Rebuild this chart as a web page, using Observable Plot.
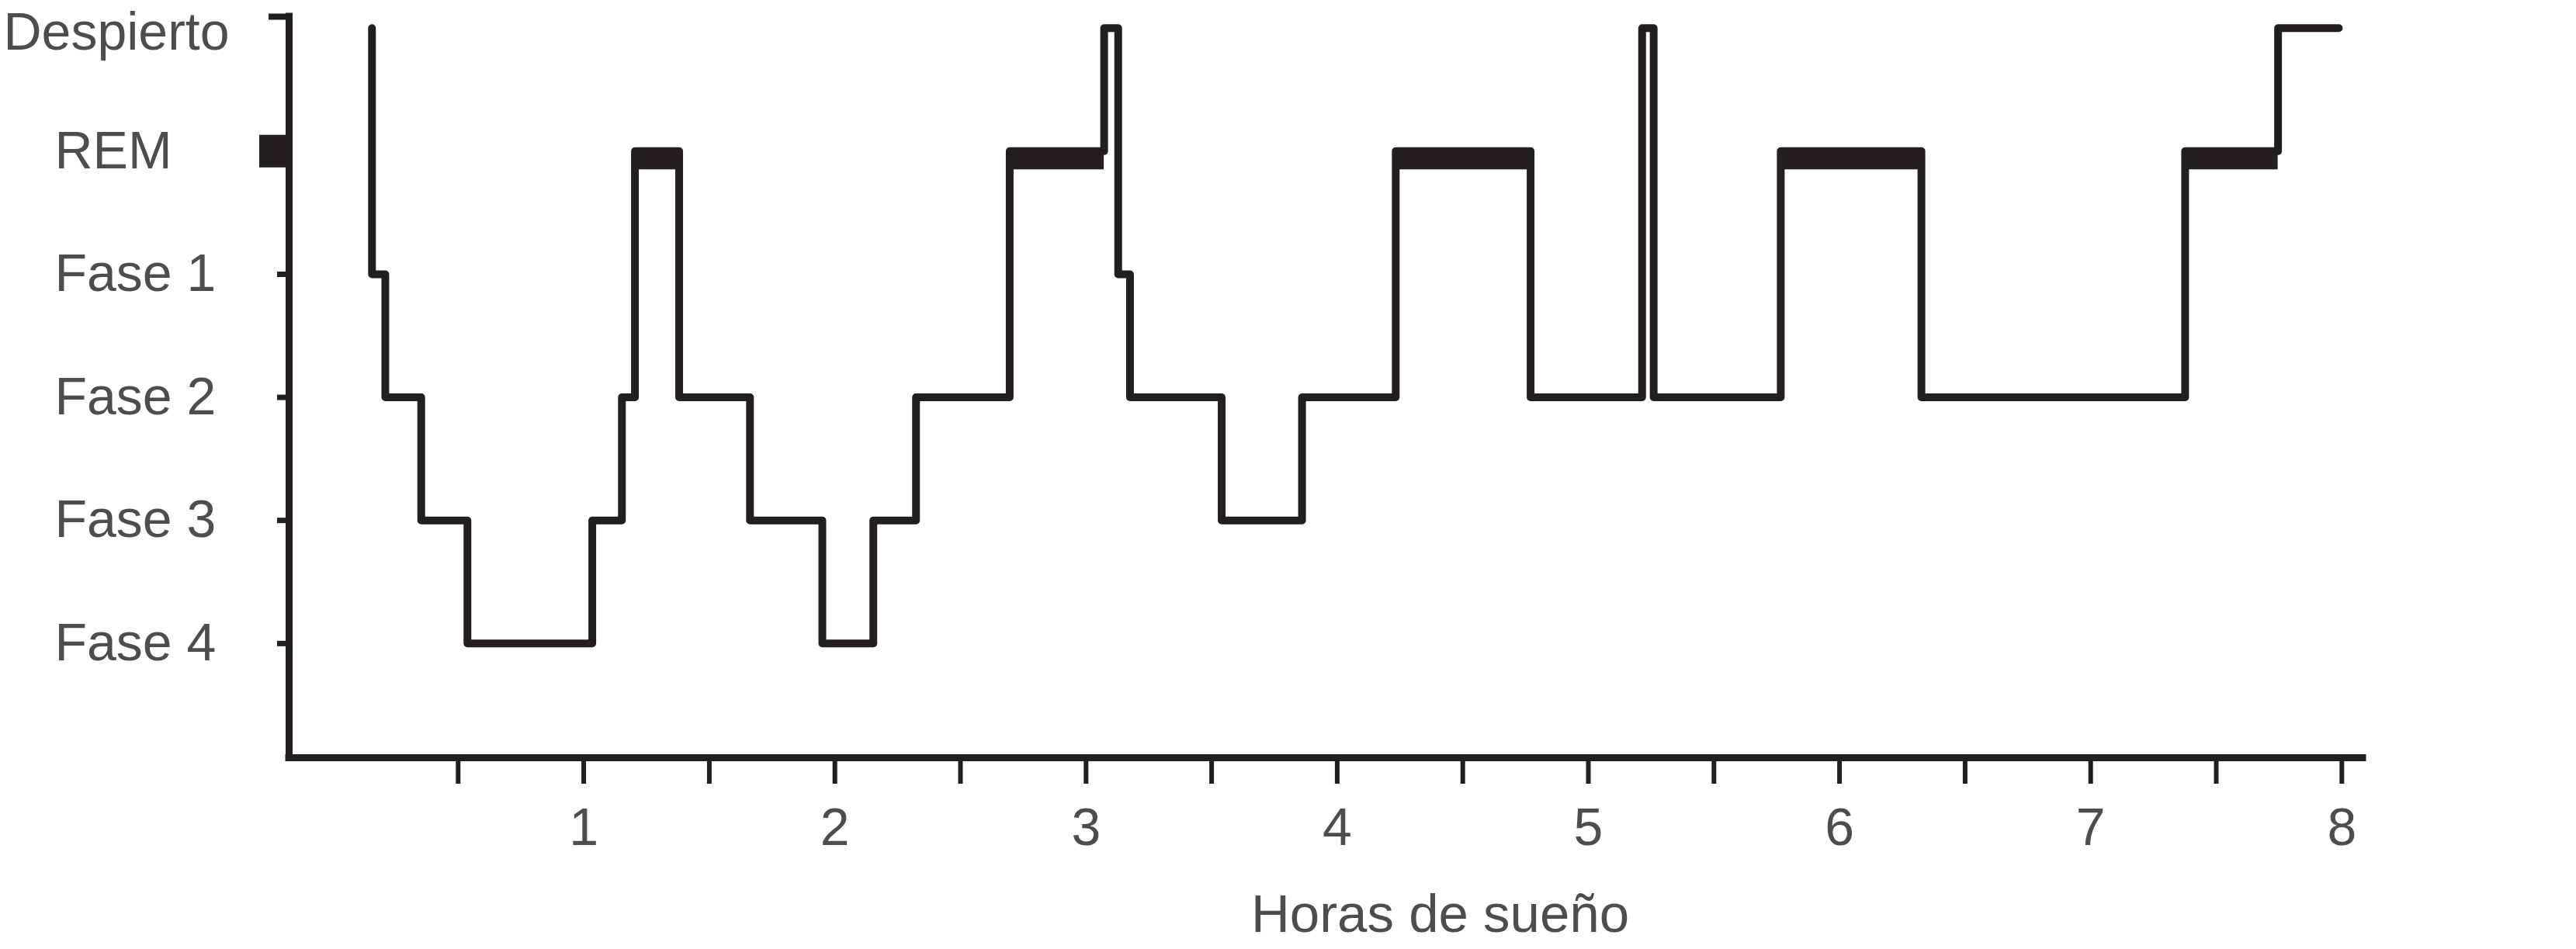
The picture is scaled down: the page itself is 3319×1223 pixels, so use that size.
<!DOCTYPE html>
<html>
<head>
<meta charset="utf-8">
<script src="https://cdn.jsdelivr.net/npm/d3@7"></script>
<script src="https://cdn.jsdelivr.net/npm/@observablehq/plot@0.6"></script>
<style>
  html, body { margin: 0; padding: 0; background: #ffffff; }
  #chart svg { display: block; }
</style>
</head>
<body>
<div id="chart"></div>
<script>
// Stage labels, indexed by stage code (0 = Fase 4 ... 5 = Despierto)
const stageLabels = ["Fase 4", "Fase 3", "Fase 2", "Fase 1", "REM", "Despierto"];
const sleepTicks = [0, 1, 2, 3];
const remCode = 4;
const awakeCode = 5;

// Hypnogram: time (hours) at which each stage begins
const hours = [0.157, 0.157, 0.21, 0.353, 0.537, 1.034, 1.152, 1.204, 1.38, 1.662,
               1.95, 2.153, 2.323, 2.696, 3.072, 3.128, 3.175, 3.54, 3.86, 4.233,
               4.77, 5.214, 5.26, 5.766, 6.326, 7.376, 7.746, 7.988];
const stages = [5, 3, 2, 1, 0, 1, 2, 4, 2, 1,
                0, 1, 2, 4, 5, 3, 2, 1, 2, 4,
                2, 5, 2, 4, 2, 4, 5, 5];

// Axis ticks
const xTicks = [0.5, 1, 1.5, 2, 2.5, 3, 3.5, 4, 4.5, 5, 5.5, 6, 6.5, 7, 7.5, 8];
const xTickLabels = [1, 2, 3, 4, 5, 6, 7, 8];
const xTitle = "Horas de sueño";

// Scale extents
const xDomain = [-0.173, 8.084];
const yDomain = [-0.928, 5.093];

const ink = "#231f20";
const textInk = "#4d4d4f";
const fs = 68;

const data = hours.map((t, i) => ({t, stage: stages[i]}));
const remSegments = [];
for (let i = 0; i < data.length - 1; i++) {
  if (data[i].stage === remCode) remSegments.push({x1: data[i].t, x2: data[i + 1].t, stage: remCode});
}

const chart = Plot.plot({
  width: 3319,
  height: 1223,
  marginLeft: 372,
  marginRight: 275,
  marginTop: 21,
  marginBottom: 247,
  style: {fontFamily: "'Liberation Sans', Arial, Helvetica, sans-serif", background: "#ffffff", color: textInk},
  x: {domain: xDomain, label: null},
  y: {domain: yDomain, label: null},
  marks: [
    // axis lines
    Plot.ruleX([xDomain[0]], {stroke: ink, strokeWidth: 9, strokeLinecap: "square"}),
    Plot.ruleY([yDomain[0]], {stroke: ink, strokeWidth: 9, strokeLinecap: "square"}),
    // y ticks
    Plot.axisY({ticks: sleepTicks, tickSize: 15, strokeWidth: 7, stroke: ink, tickFormat: () => "", label: null}),
    Plot.axisY({ticks: [remCode], tickSize: 38, strokeWidth: 42, stroke: ink, tickFormat: () => "", label: null}),
    Plot.axisY({ticks: [yDomain[1]], tickSize: 26, strokeWidth: 8, stroke: ink, tickFormat: () => "", label: null}),
    // y labels
    Plot.axisY({ticks: [0, 1, 2, 3, 4], tickSize: 0, tickPadding: 0, tickFormat: d => stageLabels[d],
                textAnchor: "start", dx: -302, fontSize: fs, fill: textInk, label: null}),
    Plot.axisY({ticks: [awakeCode], tickSize: 0, tickPadding: 0, tickFormat: d => stageLabels[d],
                textAnchor: "start", dx: -368, dy: 6, fontSize: fs, fill: textInk, label: null}),
    // x ticks and labels
    Plot.axisX({ticks: xTicks, tickSize: 34, strokeWidth: 6, stroke: ink, tickFormat: () => "", label: null}),
    Plot.axisX({ticks: xTickLabels, tickSize: 0, tickPadding: 64, fontSize: fs, fill: textInk, label: null}),
    Plot.text([xTitle], {frameAnchor: "bottom", dx: 147, dy: 224, fontSize: 69, fill: textInk}),
    // REM bands
    Plot.ruleY(remSegments, {x1: "x1", x2: "x2", y: "stage", stroke: ink, strokeWidth: 27, dy: 10}),
    // hypnogram
    Plot.line(data, {x: "t", y: "stage", curve: "step-after", stroke: ink, strokeWidth: 10,
                     strokeLinejoin: "round", strokeLinecap: "round"})
  ]
});
document.getElementById("chart").append(chart);
</script>
</body>
</html>
